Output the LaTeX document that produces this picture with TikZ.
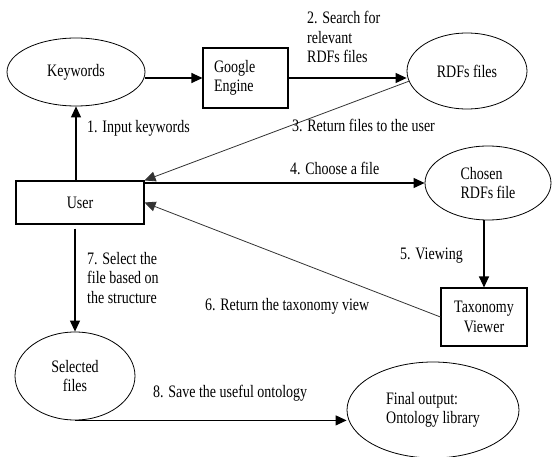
\documentclass[tikz,border=0pt]{standalone}
\usepackage{fontspec}
\setmainfont{Liberation Serif}[FakeStretch=0.8]
\usetikzlibrary{shapes.geometric,arrows.meta}

\begin{document}
\begin{tikzpicture}[x=1pt,y=-1pt,
  every node/.style={font=\fontsize{17.5}{19.5}\selectfont},
  oval/.style={draw, ellipse, line width=0.8pt, inner sep=0pt, align=center},
  box/.style={draw, rectangle, line width=1.1pt, inner sep=0pt, align=center},
  arr/.style={line width=1.1pt, -{Triangle[length=11pt,width=10pt]}},
  thinarr/.style={line width=0.8pt, draw=black!80, -{Triangle[length=11pt,width=10pt]}},
  lbl/.style={anchor=base west, inner sep=0pt, align=left}]
\useasboundingbox (0,0) rectangle (557,457);

% shapes
\node[oval, minimum width=138pt, minimum height=68pt] (kw) at (76,72) {Keywords};
\node[box, minimum width=85pt, minimum height=60pt, text width=63pt, align=left] (google) at (245.5,78) {Google\\Engine};
\node[oval, minimum width=120pt, minimum height=76pt] (rdf) at (467,71) {RDFs files};
\node[box, minimum width=128pt, minimum height=43pt] (user) at (80,202.5) {User};
\node[oval, minimum width=126pt, minimum height=74pt, align=left] (chosen) at (488,183) {Chosen\\RDFs file};
\node[box, minimum width=86pt, minimum height=58pt] (tax) at (484,317) {Taxonomy\\Viewer};
\node[oval, minimum width=120pt, minimum height=88pt] (sel) at (75,376) {Selected\\files};
\node[oval, minimum width=172pt, minimum height=96pt, align=left] (fin) at (433,410) {Final output:\\Ontology library};

% connectors
\draw[arr] (kw.south |- user.north) -- (kw.south);
\draw[arr] (kw.east |- google.west) -- (google.west);
\draw[arr] (google.east) -- (google.east -| rdf.west);
\draw[thinarr] (rdf.190) -- (user.north east);
\draw[arr] (user.north east |- chosen.west) -- (chosen.west);
\draw[arr] (chosen.south -| tax.north) -- (tax.north);
\draw[thinarr] (tax.west) -- (user.east);
\draw[arr, shorten <=4pt] (user.south -| sel.north) -- (sel.north);
\draw[arr] (sel.south) -- (sel.south -| fin.west);

% step labels (multi-line ones are placed by their last baseline)
\node[lbl] (l1) at (87,133) {1. Input keywords};
\node[lbl] (l2) at (307,63) {2. Search for\\relevant\\RDFs files};
\node[lbl] (l3) at (292,132) {3. Return files to the user};
\node[lbl] (l4) at (290,175) {4. Choose a file};
\node[lbl] (l5) at (400,260) {5. Viewing};
\node[lbl] (l6) at (205,310) {6. Return the taxonomy view};
\node[lbl] (l7) at (87,303) {7. Select the\\file based on\\the structure};
\node[lbl] (l8) at (153,397) {8. Save the useful ontology};
\end{tikzpicture}
\end{document}
